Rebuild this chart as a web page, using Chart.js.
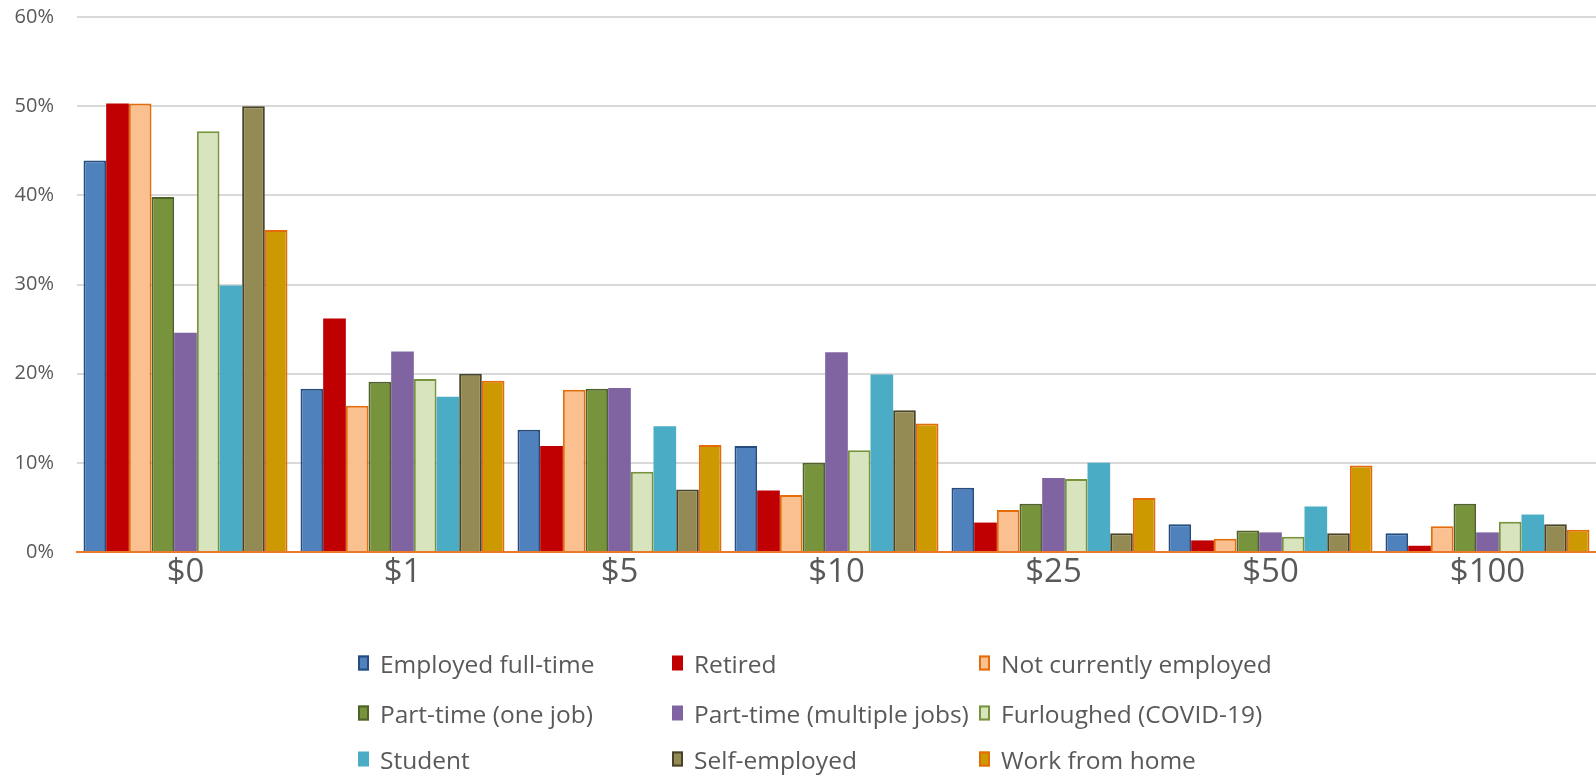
<!DOCTYPE html>
<html>
<head>
<meta charset="utf-8">
<script src="https://cdn.jsdelivr.net/npm/chart.js@4/dist/chart.umd.min.js"></script>
<style>
  html, body { margin: 0; padding: 0; background: #fff; }
  #wrap { position: relative; width: 1596px; height: 778px; }
  #legend { position: absolute; left: 0; top: 0; width: 1596px; height: 778px; pointer-events: none;
    font-family: "Open Sans", "Noto Sans", sans-serif; font-size: 24.5px; color: #595959; }
  .item { position: absolute; display: flex; align-items: center; white-space: nowrap; transform: translateY(-50%); }
  .box { width: 11px; height: 15px; box-sizing: border-box; margin-right: 11px; flex: none; }
</style>
</head>
<body>
<div id="wrap">
  <canvas id="c" width="1596" height="778"></canvas>
  <div id="legend"></div>
</div>
<script>
const categories = ["$0", "$1", "$5", "$10", "$25", "$50", "$100"];
const yTicks = [0, 10, 20, 30, 40, 50, 60];

const employedFullTime   = [43.9, 18.3, 13.7, 11.9, 7.2, 3.1, 2.1];
const retired            = [50.3, 26.2, 11.9, 6.9, 3.3, 1.3, 0.7];
const notCurrentlyEmployed = [50.3, 16.4, 18.2, 6.4, 4.7, 1.5, 2.9];
const partTimeOneJob     = [39.8, 19.1, 18.3, 10.0, 5.4, 2.4, 5.4];
const partTimeMultiple   = [24.6, 22.5, 18.4, 22.4, 8.3, 2.2, 2.2];
const furloughed         = [47.2, 19.4, 9.0, 11.4, 8.2, 1.7, 3.4];
const student            = [29.9, 17.4, 14.1, 19.9, 10.0, 5.1, 4.2];
const selfEmployed       = [50.0, 20.0, 7.0, 15.9, 2.1, 2.1, 3.1];
const workFromHome       = [36.1, 19.2, 12.0, 14.4, 6.05, 9.7, 2.5];

const seriesNames = ["Employed full-time", "Retired", "Not currently employed",
  "Part-time (one job)", "Part-time (multiple jobs)", "Furloughed (COVID-19)",
  "Student", "Self-employed", "Work from home"];
const seriesValues = [employedFullTime, retired, notCurrentlyEmployed, partTimeOneJob,
  partTimeMultiple, furloughed, student, selfEmployed, workFromHome];
const fillColors = ["#4F81BD", "#C00000", "#FAC090", "#77933C", "#8064A2", "#D7E4BD", "#4BACC6", "#948A54", "#CC9900"];
const borderColors = ["#254D80", "#C00000", "#E46C0A", "#4F6228", "#8064A2", "#77933C", "#4BACC6", "#494429", "#E36C09"];
const borderWidths = [2, 0, 2, 2, 0, 2, 0, 2, 2];

const datasets = seriesNames.map((name, i) => ({
  label: name,
  data: seriesValues[i],
  backgroundColor: fillColors[i],
  borderColor: borderColors[i],
  borderWidth: borderWidths[i],
  categoryPercentage: 0.94,
  barPercentage: 1.0
}));

new Chart(document.getElementById("c"), {
  type: "bar",
  data: { labels: categories, datasets },
  options: {
    responsive: false,
    animation: false,
    layout: { padding: { top: 17, right: 0, left: 0, bottom: 176 } },
    plugins: { legend: { display: false }, tooltip: { enabled: false } },
    scales: {
      x: {
        grid: { display: false, drawTicks: false },
        border: { display: true, color: "#E97A2A", width: 2 },
        ticks: { color: "#595959", font: { family: "Open Sans", size: 33 }, padding: 1 },
        afterFit: (s) => { s.height = 50; s.paddingLeft = 0; s.paddingRight = 0; }
      },
      y: {
        min: 0, max: 60,
        afterBuildTicks: (s) => { s.ticks = yTicks.map(v => ({ value: v })); },
        grid: { color: "#D9D9D9", lineWidth: 2, drawTicks: false },
        border: { display: false },
        ticks: { color: "#595959", font: { family: "Open Sans", size: 20 }, padding: 23,
          callback: (v) => v + "%" },
        afterFit: (s) => { s.width = 77; s.paddingTop = 0; s.paddingBottom = 0; }
      }
    }
  }
});

const legend = document.getElementById("legend");
const colX = [358, 672, 979];
const rowY = [663, 713, 759];
seriesNames.forEach((name, i) => {
  const d = document.createElement("div");
  d.className = "item";
  d.style.left = colX[i % 3] + "px";
  d.style.top = rowY[Math.floor(i / 3)] + "px";
  const b = document.createElement("span");
  b.className = "box";
  b.style.background = fillColors[i];
  b.style.border = (borderWidths[i] ? 2 : 0) + "px solid " + borderColors[i];
  d.appendChild(b);
  const t = document.createElement("span");
  t.textContent = name;
  d.appendChild(t);
  legend.appendChild(d);
});
</script>
</body>
</html>
